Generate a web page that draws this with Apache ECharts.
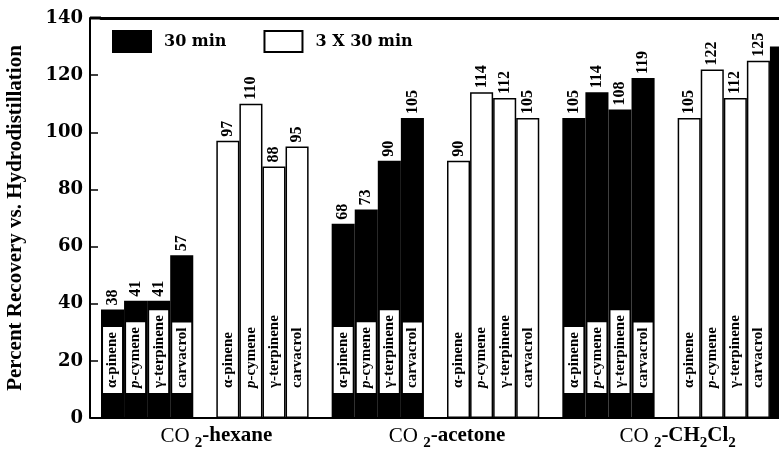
<!DOCTYPE html>
<html><head><meta charset="utf-8">
<script src="https://cdn.jsdelivr.net/npm/echarts@6/dist/echarts.min.js"></script>
<style>html,body{margin:0;padding:0;background:#fff}#c{width:779px;height:453px}</style>
</head><body><div id="c"></div>
<script>
// ---- data ----
const groups = ['CO2-hexane', 'CO2-acetone', 'CO2-CH2Cl2'];
const compounds = ['α-pinene', 'p-cymene', 'γ-terpinene', 'carvacrol'];
const seriesNames = ['30 min', '3 X 30 min'];
const yMin = 0, yMax = 140, yInterval = 20;
const hexane30 = [38, 41, 41, 57];
const hexane3x = [97, 110, 88, 95];
const acetone30 = [68, 73, 90, 105];
const acetone3x = [90, 114, 112, 105];
const ch2cl2_30 = [105, 114, 108, 119];
const ch2cl2_3x = [105, 122, 112, 125];
const edgeBar30 = [130]; // black bar cut off at the right edge of the figure

// ---- build slots: 4 black, gap, 4 white, gap ... ----
const g30 = [hexane30, acetone30, ch2cl2_30];
const g3x = [hexane3x, acetone3x, ch2cl2_3x];
const black = [], white = [], blackNames = [], whiteNames = [], slotNames = [];
groups.forEach((g, gi) => {
  g30[gi].forEach((v, i) => { black.push(v); white.push(null); blackNames.push(v); whiteNames.push(null); slotNames.push(compounds[i]); });
  black.push(null); white.push(null); blackNames.push(null); whiteNames.push(null); slotNames.push('');
  g3x[gi].forEach((v, i) => { black.push(null); white.push(v); blackNames.push(null); whiteNames.push(v); slotNames.push(compounds[i]); });
  if (gi < groups.length - 1) { black.push(null); white.push(null); blackNames.push(null); whiteNames.push(null); slotNames.push(''); }
});
edgeBar30.forEach(v => { black.push({ value: v, label: { show: false } }); white.push(null); blackNames.push(null); whiteNames.push(null); slotNames.push(''); });
const slots = slotNames.map((n, i) => String(i));

const GL = 101, GT = 18, GB = 35, GR = -14, AXIS_X = 90;
const H = 453;

const serif = 'Liberation Serif';
const valueLabel = { show: true, position: 'top', distance: 4, rotate: 90, align: 'left', verticalAlign: 'middle',
  fontFamily: serif, fontWeight: 'bold', fontSize: 16, color: '#000' };
const nameFmt = p => slotNames[p.dataIndex].replace(/^p-/, '{i|p}-');
const nameRich = { i: { fontFamily: serif, fontWeight: 'bold', fontStyle: 'italic', fontSize: 15, color: '#000' } };
const common = { type: 'bar', barWidth: '100%', barGap: '-100%', barCategoryGap: '0%', animation: false };

function groupFmt(name) {
  let rest = name.replace(/^CO2/, '');
  let out = '{r|CO }{s|2}';
  rest.split(/(\d)/).forEach(t => { if (!t) return; out += /\d/.test(t) ? '{s|' + t + '}' : '{b|' + t + '}'; });
  return out;
}

const chart = echarts.init(document.getElementById('c'));
chart.setOption({
  animation: false,
  backgroundColor: '#fff',
  grid: { left: GL, top: GT, bottom: GB, right: GR, outerBoundsMode: 'none', containLabel: false },
  legend: {
    data: seriesNames, left: 107, top: 25, itemWidth: 38, itemHeight: 21, itemGap: 37, icon: 'rect',
    textStyle: { fontFamily: 'DejaVu Serif', fontWeight: 'bold', fontSize: 16, color: '#000', padding: [0, 0, 0, 8] }
  },
  xAxis: [
    { type: 'category', data: slots, position: 'bottom', axisLine: { lineStyle: { color: '#000', width: 2 } },
      axisTick: { show: false }, axisLabel: { show: false }, splitLine: { show: false } },
    { type: 'category', data: groups, position: 'bottom', axisLine: { show: false }, axisTick: { show: false },
      axisLabel: { margin: 6, formatter: groupFmt, rich: {
        r: { fontFamily: serif, fontSize: 21, color: '#000', lineHeight: 24 },
        b: { fontFamily: serif, fontWeight: 'bold', fontSize: 21, color: '#000', lineHeight: 24 },
        s: { fontFamily: serif, fontWeight: 'bold', fontSize: 15, color: '#000', lineHeight: 24, padding: [14, 0, 0, 0] }
      } } },
    { type: 'category', data: slots, position: 'top', axisLine: { lineStyle: { color: '#000', width: 3 } },
      axisTick: { show: false }, axisLabel: { show: false } }
  ],
  yAxis: {
    type: 'value', min: yMin, max: yMax, interval: yInterval, offset: GL - AXIS_X,
    axisLine: { show: true, lineStyle: { color: '#000', width: 2 } },
    axisTick: { show: true, inside: true, length: 8, lineStyle: { color: '#000', width: 1.5 } },
    axisLabel: { margin: 7, fontFamily: 'DejaVu Serif', fontWeight: 'bold', fontSize: 18, color: '#000' },
    splitLine: { show: false },
    name: 'Percent Recovery vs. Hydrodistillation', nameLocation: 'middle', nameGap: 64,
    nameTextStyle: { fontFamily: serif, fontWeight: 'bold', fontSize: 21, color: '#000' }
  },
  series: [
    Object.assign({}, common, { name: seriesNames[0], data: black, itemStyle: { color: '#000', borderColor: '#000', borderWidth: 2 }, label: valueLabel }),
    Object.assign({}, common, { name: seriesNames[1], data: white, itemStyle: { color: '#fff', borderColor: '#000', borderWidth: 1.5 }, label: valueLabel }),
    Object.assign({}, common, { name: 'names30', data: blackNames, silent: true, itemStyle: { color: 'rgba(0,0,0,0)' },
      label: { show: true, position: 'insideBottom', distance: 25, rotate: 90, align: 'left', verticalAlign: 'middle',
        backgroundColor: '#fff', padding: [2, 5], formatter: nameFmt, rich: nameRich,
        fontFamily: serif, fontWeight: 'bold', fontSize: 15, color: '#000' } }),
    Object.assign({}, common, { name: 'names3x', data: whiteNames, silent: true, itemStyle: { color: 'rgba(0,0,0,0)' },
      label: { show: true, position: 'insideBottom', distance: 30, rotate: 90, align: 'left', verticalAlign: 'middle',
        formatter: nameFmt, rich: nameRich, fontFamily: serif, fontWeight: 'bold', fontSize: 15, color: '#000' } })
  ],
  graphic: [
    { type: 'line', shape: { x1: AXIS_X, y1: H - GB, x2: GL, y2: H - GB }, style: { stroke: '#000', lineWidth: 2 } },
    { type: 'line', shape: { x1: AXIS_X, y1: GT, x2: GL, y2: GT }, style: { stroke: '#000', lineWidth: 3 } }
  ]
});
</script></body></html>
